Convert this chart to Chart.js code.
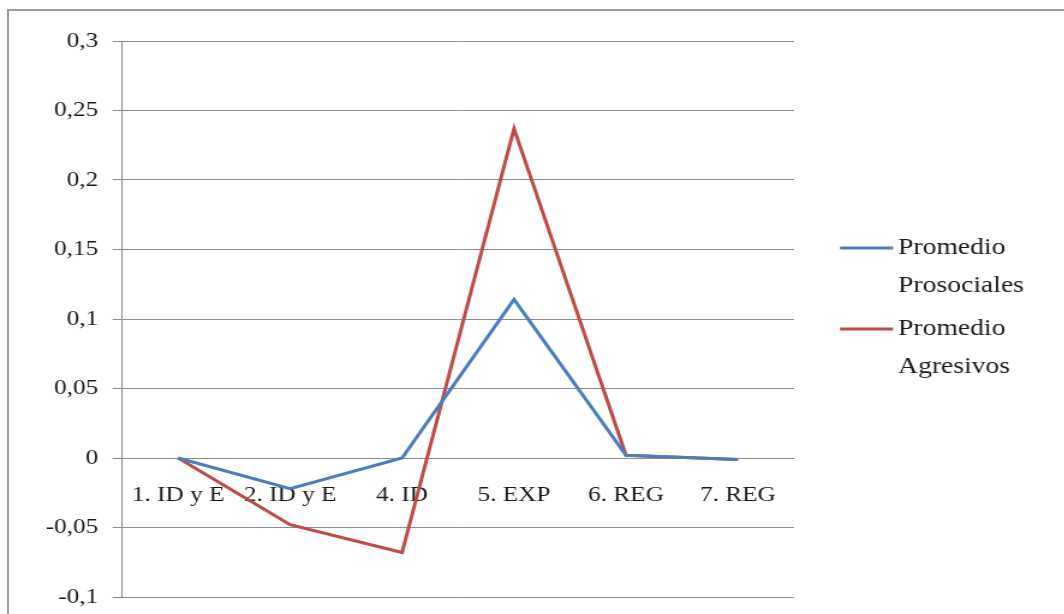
<!DOCTYPE html>
<html>
<head>
<meta charset="utf-8">
<script src="https://cdn.jsdelivr.net/npm/chart.js@4.4.1/dist/chart.umd.min.js"></script>
<style>
  html, body { margin: 0; padding: 0; background: #ffffff; }
  body { width: 1064px; height: 614px; overflow: hidden; position: relative; }
  #frame {
    position: absolute; left: 7px; top: 9px; right: 0; bottom: 0;
    border-left: 2px solid #9c9c9c; border-top: 2px solid #9c9c9c;
  }
  /* the chart is laid out narrow and widened, giving the wide serif lettering */
  #wrap {
    position: absolute; left: 0; top: 0;
    width: calc(1064px / 1.2); height: 614px;
    transform: scaleX(1.2); transform-origin: 0 0;
  }
</style>
</head>
<body>
<div id="frame"></div>
<div id="wrap"><canvas id="chart"></canvas></div>
<script>
// Categories along the horizontal axis
const categories = ['1. ID y E', '2. ID y E', '4. ID', '5. EXP', '6. REG', '7. REG'];

// Series values
const prosociales = [0, -0.022, 0, 0.114, 0.002, -0.001];
const agresivos   = [0, -0.048, -0.068, 0.237, 0.002, -0.001];

// Value axis
const yMin = -0.1;
const yMax = 0.3;
const yStep = 0.05;

const serif = '"Liberation Serif", "Times New Roman", serif';
const STRETCH = 1.2;

function fmt(v) {
  const r = Math.round(v * 100) / 100;
  return String(r).replace('.', ',');
}

// Legend at the right: a short line per series, with its name wrapped over two lines
const sideLegend = {
  id: 'sideLegend',
  afterDraw(chart) {
    const ctx = chart.ctx;
    const area = chart.chartArea;
    const x0 = area.right + 46 / STRETCH;
    const lineLen = 53 / STRETCH;
    const textX = x0 + lineLen + 5 / STRETCH;
    const lineH = 38;
    let y = 248;
    ctx.save();
    ctx.font = '23px ' + serif;
    ctx.textBaseline = 'middle';
    ctx.textAlign = 'left';
    chart.data.datasets.forEach(ds => {
      ctx.strokeStyle = ds.borderColor;
      ctx.lineWidth = 3;
      ctx.beginPath();
      ctx.moveTo(x0, y);
      ctx.lineTo(x0 + lineLen, y);
      ctx.stroke();
      ctx.fillStyle = '#1a1a1a';
      ds.label.split(' ').forEach((word, i) => {
        ctx.fillText(word, textX, y + i * lineH);
      });
      y += 81;
    });
    ctx.restore();
  }
};

new Chart(document.getElementById('chart'), {
  type: 'line',
  data: {
    labels: categories,
    datasets: [
      {
        label: 'Promedio Prosociales',
        data: prosociales,
        borderColor: '#4A7EBB',
        backgroundColor: '#4A7EBB',
        borderWidth: 3,
        pointRadius: 0,
        tension: 0
      },
      {
        label: 'Promedio Agresivos',
        data: agresivos,
        borderColor: '#BE4B48',
        backgroundColor: '#BE4B48',
        borderWidth: 3,
        pointRadius: 0,
        tension: 0
      }
    ]
  },
  options: {
    responsive: true,
    maintainAspectRatio: false,
    animation: false,
    layout: { padding: { left: 0, top: 41, right: 1064 / STRETCH - 793 / STRETCH, bottom: 17 } },
    plugins: {
      legend: { display: false },
      tooltip: { enabled: false }
    },
    scales: {
      x: {
        type: 'category',
        offset: true,
        position: { y: 0 },
        grid: { display: true, drawOnChartArea: false, drawTicks: false, color: '#8c8c8c' },
        border: { display: true, color: '#8c8c8c', width: 1 },
        ticks: {
          font: { family: serif, size: 21 },
          color: '#1a1a1a',
          padding: 25,
          maxRotation: 0,
          autoSkip: false
        }
      },
      y: {
        min: yMin,
        max: yMax,
        afterFit(scale) {
          scale.width = 122 / STRETCH;
          scale.paddingTop = 0;
          scale.paddingBottom = 0;
        },
        grid: { color: '#8c8c8c', lineWidth: 1, drawTicks: true, tickLength: 8 },
        border: { display: true, color: '#8c8c8c', width: 1 },
        ticks: {
          stepSize: yStep,
          font: { family: serif, size: 21 },
          color: '#1a1a1a',
          padding: 12,
          callback: v => fmt(v)
        }
      }
    }
  },
  plugins: [sideLegend]
});
</script>
</body>
</html>
